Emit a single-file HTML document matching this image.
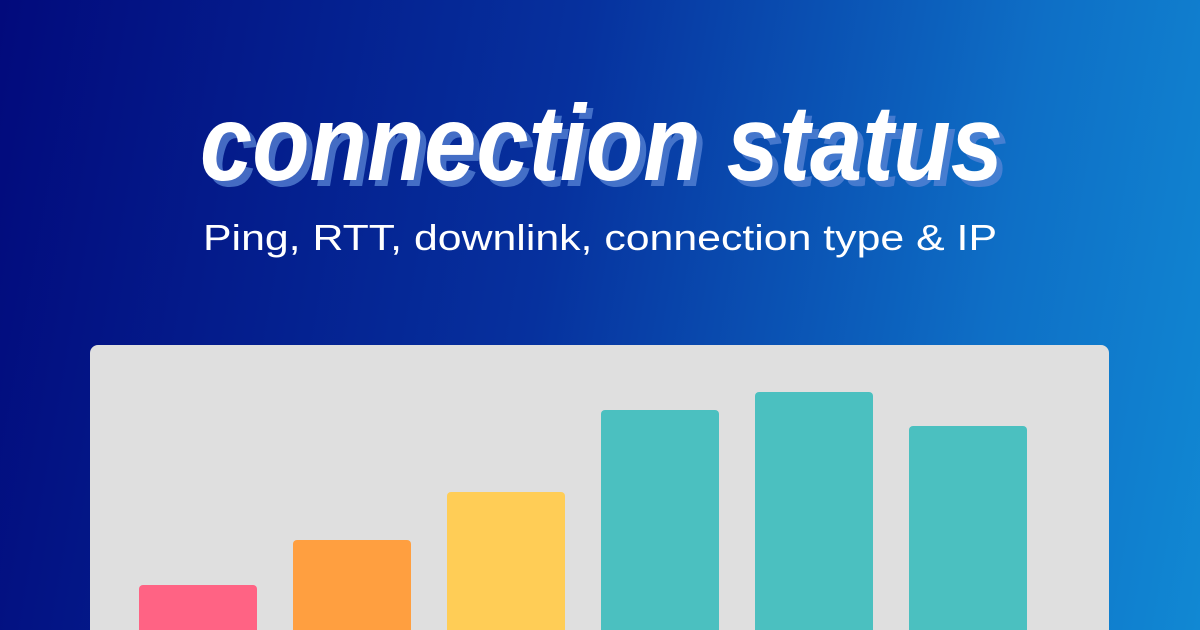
<!DOCTYPE html>
<html><head><meta charset="utf-8"><style>
html,body{margin:0;padding:0;width:1200px;height:630px;overflow:hidden}
body{position:relative;background:linear-gradient(100deg,#020a7c 0%,#06319e 45%,#0e6fc6 80%,#1188d3 100%)}
.panel{position:absolute;left:90px;top:345px;width:1019px;height:285px;background:#dfdfdf;border-radius:8px 8px 0 0}
.bar{position:absolute;width:118px;border-radius:4px 4px 0 0;bottom:0}
svg{position:absolute;left:0;top:0}
</style></head><body>
<svg width="1200" height="300">
<g font-family="Liberation Sans, sans-serif" font-weight="bold" font-style="italic" font-size="108">
<text x="206" y="186" textLength="803" lengthAdjust="spacingAndGlyphs" fill="#5a86d6" fill-opacity="0.75">connection status</text>
<text x="200" y="180" textLength="803" lengthAdjust="spacingAndGlyphs" fill="#ffffff">connection status</text>
</g>
<text x="203" y="250" textLength="794" lengthAdjust="spacingAndGlyphs" font-family="Liberation Sans, sans-serif" font-size="36" fill="#ffffff">Ping, RTT, downlink, connection type &amp; IP</text>
</svg>
<div class="panel">
<div class="bar" style="left:49px;height:45px;background:#ff6384"></div>
<div class="bar" style="left:203px;height:90px;background:#ff9f40"></div>
<div class="bar" style="left:357px;height:138px;background:#ffcd56"></div>
<div class="bar" style="left:511px;height:220px;background:#4bc0c0"></div>
<div class="bar" style="left:665px;height:238px;background:#4bc0c0"></div>
<div class="bar" style="left:819px;height:204px;background:#4bc0c0"></div>
</div>
</body></html>
